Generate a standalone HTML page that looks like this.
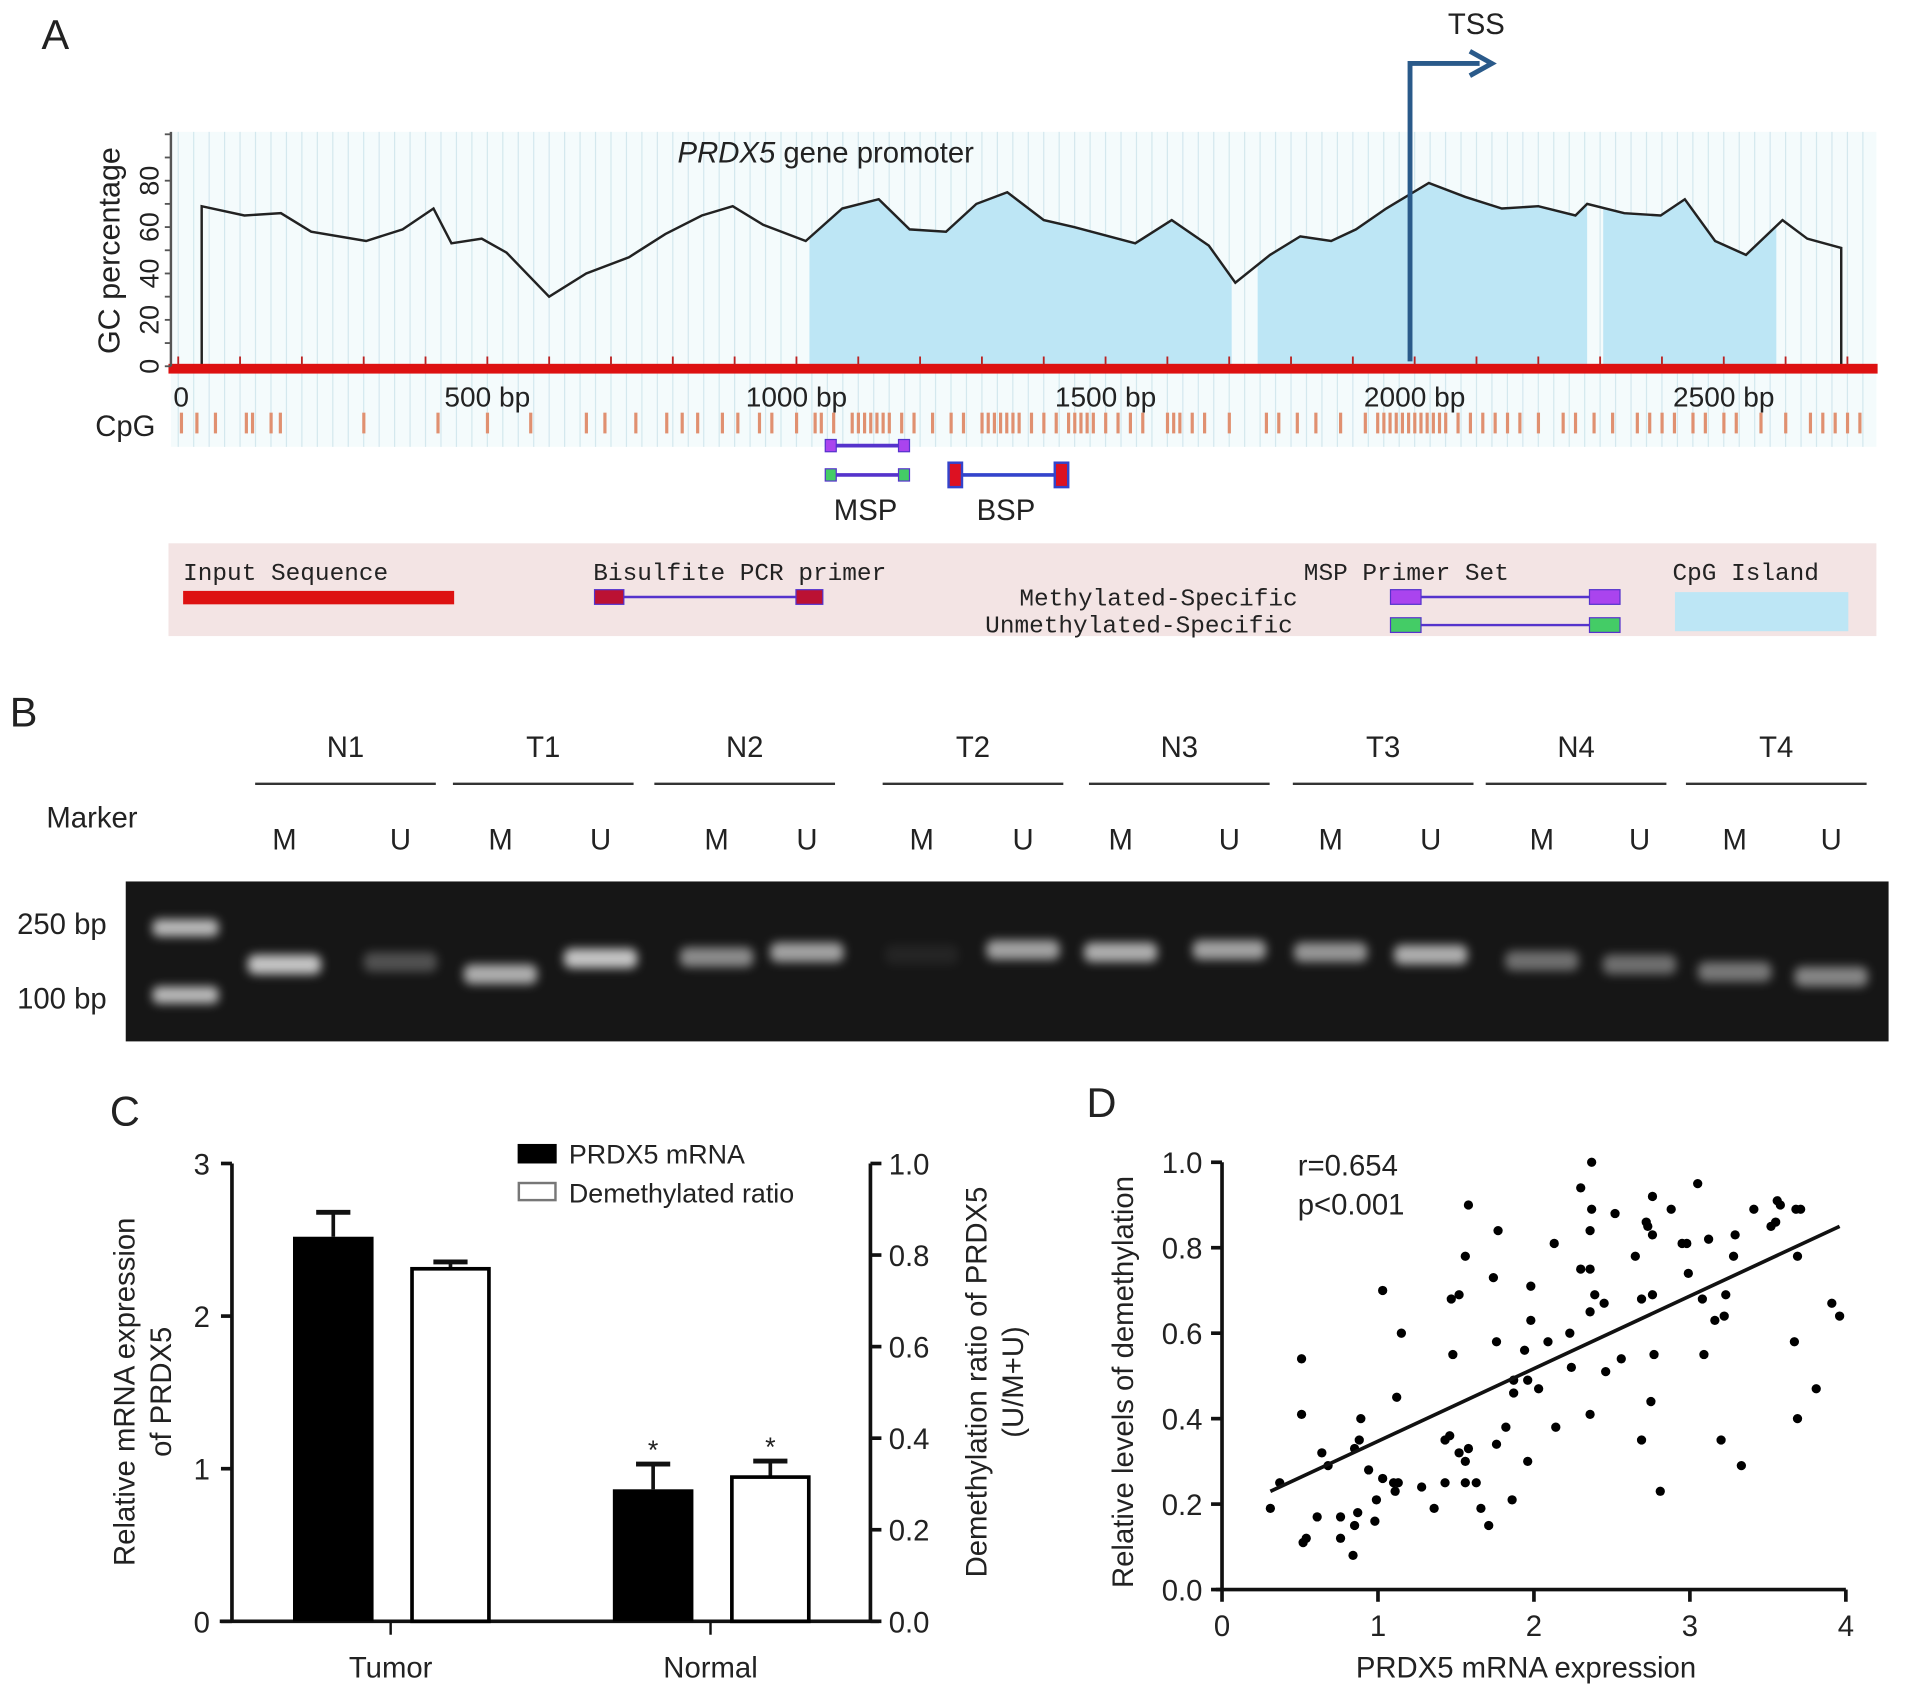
<!DOCTYPE html>
<html><head><meta charset="utf-8">
<style>
html,body{margin:0;padding:0;background:#fff;}
svg{display:block;}
text{font-family:"Liberation Sans",sans-serif;fill:#222;}
.mono{font-family:"Liberation Mono",monospace;}
</style></head>
<body>
<svg id="fig" width="1913" height="1697" viewBox="0 0 1567 1390" preserveAspectRatio="none" xmlns="http://www.w3.org/2000/svg">
<defs>
<filter id="blur" x="-50%" y="-100%" width="200%" height="300%"><feGaussianBlur stdDeviation="4"/></filter>
</defs>
<!-- Panel A -->
<g id="panelA">
<text x="34" y="40" font-size="34">A</text>
<rect x="140" y="108" width="1397" height="258" fill="#f4fbfc"/>
<g id="gridA"></g>
<g id="islands"></g>
<path id="gcLine" d="" fill="none" stroke="#222" stroke-width="2"/>
<rect x="138" y="298" width="1400" height="8" fill="#dd1111"/>
<g id="axisA"></g>
<text x="0" y="0" font-size="25" transform="translate(98,290) rotate(-90)">GC percentage</text>
<text x="555" y="133" font-size="24"><tspan font-style="italic">PRDX5</tspan> gene promoter</text>
<g id="bpTicks"></g>
<text x="78" y="357" font-size="24">CpG</text>
<g id="cpgTicks"></g>
<path d="M1155,296 V52 H1212" fill="none" stroke="#2a5a8a" stroke-width="4"/>
<path d="M1204,42 L1222,52 L1204,62" fill="none" stroke="#2a5a8a" stroke-width="4"/>
<text x="1186" y="28" font-size="24">TSS</text>
<g>
<line x1="680" y1="365" x2="741" y2="365" stroke="#5533cc" stroke-width="3"/>
<rect x="676" y="360" width="9" height="10" fill="#aa44ee" stroke="#5533cc"/><rect x="736" y="360" width="9" height="10" fill="#aa44ee" stroke="#5533cc"/>
<line x1="680" y1="389" x2="741" y2="389" stroke="#5533cc" stroke-width="3"/>
<rect x="676" y="384" width="9" height="10" fill="#44cc66" stroke="#5533cc"/><rect x="736" y="384" width="9" height="10" fill="#44cc66" stroke="#5533cc"/>
<text x="683" y="426" font-size="24">MSP</text>
</g>
<g>
<line x1="782" y1="389" x2="870" y2="389" stroke="#3344cc" stroke-width="3"/>
<rect x="777" y="379" width="11" height="20" fill="#dd1122" stroke="#3344cc" stroke-width="2"/><rect x="864" y="379" width="11" height="20" fill="#dd1122" stroke="#3344cc" stroke-width="2"/>
<text x="800" y="426" font-size="24">BSP</text>
</g>
<g>
<rect x="138" y="445" width="1399" height="76" fill="#f3e4e4"/>
<text x="150" y="475" font-size="20" class="mono" fill="#333">Input Sequence</text>
<rect x="150" y="484" width="222" height="11" fill="#dd1111"/>
<text x="486" y="475" font-size="20" class="mono">Bisulfite PCR primer</text>
<line x1="490" y1="489" x2="672" y2="489" stroke="#5533cc" stroke-width="2"/>
<rect x="487" y="483" width="24" height="12" fill="#bb1133" stroke="#5533cc"/><rect x="652" y="483" width="22" height="12" fill="#bb1133" stroke="#5533cc"/>
<text x="1068" y="475" font-size="20" class="mono">MSP Primer Set</text>
<text x="835" y="496" font-size="20" class="mono">Methylated-Specific</text>
<text x="807" y="518" font-size="20" class="mono">Unmethylated-Specific</text>
<line x1="1142" y1="489" x2="1326" y2="489" stroke="#5533cc" stroke-width="2"/>
<rect x="1139" y="483" width="25" height="12" fill="#aa44ee" stroke="#5533cc"/><rect x="1302" y="483" width="25" height="12" fill="#aa44ee" stroke="#5533cc"/>
<line x1="1142" y1="512" x2="1326" y2="512" stroke="#5533cc" stroke-width="2"/>
<rect x="1139" y="506" width="25" height="12" fill="#44cc66" stroke="#5533cc"/><rect x="1302" y="506" width="25" height="12" fill="#44cc66" stroke="#5533cc"/>
<text x="1370" y="475" font-size="20" class="mono">CpG Island</text>
<rect x="1372" y="485" width="142" height="32" fill="#bde6f5"/>
</g>
</g>

<!-- Panel B -->
<g id="panelB">
<text x="8" y="595" font-size="34">B</text>
<text x="38" y="678" font-size="24">Marker</text>
<g id="laneHeaders"></g>
<rect x="103" y="722" width="1444" height="131" fill="#161616"/>
<g id="bands"></g>
<text x="14" y="765" font-size="24">250 bp</text>
<text x="14" y="826" font-size="24">100 bp</text>
</g>

<!-- Panel C -->
<g id="panelC">
<text x="90" y="922" font-size="34">C</text>
<g id="barC"></g>
</g>

<!-- Panel D -->
<g id="panelD">
<text x="890" y="915" font-size="34">D</text>
<g id="scatD"></g>
</g>
</svg>

<script>
// ---------- Panel A data ----------
const gcPos = [38,107,166,215,304,363,413,442,491,531,600,660,729,788,847,897,946,1015,1074,1133,1183,1242,1291,1341,1400,1449,1548,1607,1667,1710,1766,1815,1865,1905,1954,2023,2082,2141,2200,2260,2279,2339,2398,2437,2486,2536,2595,2635,2690];
const gcVal = [69,65,66,58,54,59,68,53,55,49,30,40,47,57,65,69,61,54,68,72,59,58,70,75,63,60,53,63,52,36,48,56,54,59,68,79,73,68,69,65,70,66,65,72,54,48,63,55,51];
const islandStart = [1021,1746,2305];
const islandEnd = [1704,2279,2585];
const gcTicks = [0,20,40,60,80];
const bpTicks = [0,500,1000,1500,2000,2500];
const bpLabels = ["0","500 bp","1000 bp","1500 bp","2000 bp","2500 bp"];
const cpgSites = [5,30,60,110,120,150,165,300,420,500,570,660,690,740,790,815,840,880,905,940,960,1000,1030,1040,1060,1090,1100,1110,1120,1130,1140,1150,1170,1190,1220,1250,1270,1300,1310,1320,1330,1340,1350,1360,1380,1400,1420,1440,1450,1460,1470,1480,1500,1520,1540,1560,1600,1610,1620,1640,1660,1700,1760,1780,1810,1840,1880,1920,1940,1950,1960,1970,1980,1990,2000,2010,2020,2030,2040,2050,2070,2090,2110,2130,2150,2170,2200,2240,2260,2290,2320,2360,2380,2400,2420,2450,2470,2500,2520,2560,2600,2640,2660,2680,2700,2720];

const SVGNS="http://www.w3.org/2000/svg";
function mk(tag, attrs, parent){const e=document.createElementNS(SVGNS,tag);for(const k in attrs)e.setAttribute(k,attrs[k]);parent.appendChild(e);return e;}
const bpX = bp => 146 + bp*0.5064;
const gcY = v => 300 - v*1.9;

(function(){
 const grid=document.getElementById('gridA');
 for(let x=146;x<1537;x+=12.66){ mk('line',{x1:x,y1:108,x2:x,y2:366,stroke:'#d4e8ee','stroke-width':1},grid); }
 const pts=gcPos.map((p,i)=>[bpX(p),gcY(gcVal[i])]);
 let d='M'+bpX(gcPos[0])+','+gcY(0);
 pts.forEach(p=>d+=' L'+p[0].toFixed(1)+','+p[1].toFixed(1));
 d+=' L'+bpX(gcPos[gcPos.length-1])+','+gcY(0);
 document.getElementById('gcLine').setAttribute('d',d);
 const isl=document.getElementById('islands');
 const defs=mk('defs',{},isl);
 const cp=mk('clipPath',{id:'gcClip'},defs);
 mk('path',{d:d+' Z'},cp);
 islandStart.forEach((s,i)=>{
  const r=mk('rect',{x:bpX(s),y:100,width:bpX(islandEnd[i])-bpX(s),height:200,fill:'#bde6f5','clip-path':'url(#gcClip)'},isl);
  
  
 });
 const ax=document.getElementById('axisA');
 mk('line',{x1:140,y1:108,x2:140,y2:300,stroke:'#555','stroke-width':2},ax);
 for(let v=0;v<=100;v+=10){ mk('line',{x1:135,y1:gcY(v),x2:140,y2:gcY(v),stroke:'#555','stroke-width':1.5},ax); }
 gcTicks.forEach(v=>{
  const t=mk('text',{x:0,y:0,'font-size':22,'text-anchor':'middle',transform:`translate(130,${gcY(v)}) rotate(-90)`},ax);
  t.textContent=v;
  
  
 });
 const bt=document.getElementById('bpTicks');
 for(let b=0;b<=2700;b+=100){ mk('line',{x1:bpX(b),y1:292,x2:bpX(b),y2:299,stroke:'#b22',  'stroke-width':1.5},bt); }
 bpTicks.forEach((b,i)=>{
  const t=mk('text',{x:bpX(b)-(i==0?4:0),y:333,'font-size':23,'text-anchor':i==0?'start':'middle'},bt);
  t.textContent=bpLabels[i];
  
  
 });
 const cg=document.getElementById('cpgTicks');
 cpgSites.forEach(s=>{
  const r=mk('rect',{x:bpX(s)-1.2,y:338,width:2.6,height:17,fill:'#e09070'},cg);
  
  
 });
})();

// ---------- Panel B data ----------
const groups = ["N1","T1","N2","T2","N3","T3","N4","T4"];
const groupCenters = [283,445,610,797,966,1133,1291,1455];
const laneX = [233,328,410,492,587,661,755,838,918,1007,1090,1172,1263,1343,1421,1500];
const bandY = [790,788,798,785,784,780,782,778,780,778,780,782,787,790,796,800];
const bandIntensity = [0.75,0.25,0.65,0.75,0.5,0.6,0.06,0.6,0.65,0.6,0.55,0.65,0.38,0.38,0.42,0.48];
(function(){
 const lh=document.getElementById('laneHeaders');
 groups.forEach((g,i)=>{
  const t=mk('text',{x:groupCenters[i],y:620,'font-size':24,'text-anchor':'middle'},lh);
  t.textContent=g;
  
  
  mk('line',{x1:groupCenters[i]-74,y1:642,x2:groupCenters[i]+74,y2:642,stroke:'#333','stroke-width':2},lh);
 });
 laneX.forEach((x,i)=>{
  const t=mk('text',{x:x,y:696,'font-size':24,'text-anchor':'middle'},lh);
  t.textContent= i%2==0?'M':'U';
  
  
 });
 const bd=document.getElementById('bands');
 laneX.forEach((x,i)=>{
  const r=mk('rect',{x:x-30,y:bandY[i]-8,width:60,height:16,rx:6,fill:'#fff',opacity:bandIntensity[i],filter:'url(#blur)'},bd);
  
  
 });
 [[152,760],[152,815]].forEach(p=>{
  const r=mk('rect',{x:p[0]-27,y:p[1]-7,width:54,height:14,rx:5,fill:'#fff',opacity:0.7,filter:'url(#blur)'},bd);
  
  
 });
})();

// ---------- Panel C data ----------
const barCats = ["Tumor","Normal"];
const mrnaVals = [2.52,0.865];
const mrnaErr = [0.16,0.165];
const demethVals = [0.77,0.315];
const demethErr = [0.015,0.035];
const leftTicks = [0,1,2,3];
const rightTicks = ["0.0","0.2","0.4","0.6","0.8","1.0"];
(function(){
 const g=document.getElementById('barC');
 const yL=v=>1328-v*125, yR=v=>1328-v*375;
 const catX=[320,582];
 mk('line',{x1:190,y1:953,x2:190,y2:1328,stroke:'#111','stroke-width':3},g);
 mk('line',{x1:713,y1:953,x2:713,y2:1328,stroke:'#111','stroke-width':3},g);
 mk('line',{x1:180,y1:1328,x2:720,y2:1328,stroke:'#111','stroke-width':3},g);
 leftTicks.forEach(v=>{
  mk('line',{x1:181,y1:yL(v),x2:190,y2:yL(v),stroke:'#111','stroke-width':3},g);
  const t=mk('text',{x:172,y:yL(v)+9,'font-size':24,'text-anchor':'end'},g);t.textContent=v;
  
  
 });
 rightTicks.forEach(s=>{
  const v=parseFloat(s);
  mk('line',{x1:713,y1:yR(v),x2:722,y2:yR(v),stroke:'#111','stroke-width':3},g);
  const t=mk('text',{x:728,y:yR(v)+9,'font-size':24},g);t.textContent=s;
  
  
 });
 barCats.forEach((c,i)=>{
  const cx=catX[i];
  mk('line',{x1:cx,y1:1328,x2:cx,y2:1339,stroke:'#111','stroke-width':2},g);
  const t=mk('text',{x:cx,y:1374,'font-size':24,'text-anchor':'middle'},g);t.textContent=c;
  
  
  const x1=cx-80, x2=cx+16;
  const top1=yL(mrnaVals[i]), e1=yL(mrnaVals[i]+mrnaErr[i]);
  mk('line',{x1:x1+33,y1:top1,x2:x1+33,y2:e1,stroke:'#111','stroke-width':3},g);
  mk('line',{x1:x1+19,y1:e1,x2:x1+47,y2:e1,stroke:'#111','stroke-width':4},g);
  const b1=mk('rect',{x:x1,y:top1,width:66,height:1328-top1,fill:'#000'},g);
  
  
  const top2=yR(demethVals[i]), e2=yR(demethVals[i]+demethErr[i]);
  mk('line',{x1:x2+33,y1:top2,x2:x2+33,y2:e2,stroke:'#111','stroke-width':3},g);
  mk('line',{x1:x2+19,y1:e2,x2:x2+47,y2:e2,stroke:'#111','stroke-width':4},g);
  const b2=mk('rect',{x:x2+1.5,y:top2,width:63,height:1328-top2,fill:'#fff',stroke:'#000','stroke-width':3},g);
  
  
  if(i==1){
   const a1=mk('text',{x:x1+33,y:e1-4,'font-size':22,'text-anchor':'middle'},g);a1.textContent='*';
   
   
   const a2=mk('text',{x:x2+33,y:e2-4,'font-size':22,'text-anchor':'middle'},g);a2.textContent='*';
   
   
  }
 });
 const l1=mk('rect',{x:424,y:937,width:32,height:16,fill:'#000'},g);
 
 const lt1=mk('text',{x:466,y:953,'font-size':22},g);lt1.textContent='PRDX5 mRNA';
 
 const l2=mk('rect',{x:425,y:969,width:30,height:14,fill:'#fff',stroke:'#777','stroke-width':2},g);
 
 const lt2=mk('text',{x:466,y:985,'font-size':22},g);lt2.textContent='Demethylated ratio';
 
 const yt=mk('text',{x:0,y:0,'font-size':24,'text-anchor':'middle',transform:'translate(110,1140) rotate(-90)'},g);
 yt.innerHTML='<tspan x="0" dy="0">Relative mRNA expression</tspan><tspan x="0" dy="30">of PRDX5</tspan>';
 
 const yt2=mk('text',{x:0,y:0,'font-size':24,'text-anchor':'middle',transform:'translate(808,1132) rotate(-90)'},g);
 yt2.innerHTML='<tspan x="0" dy="0">Demethylation ratio of PRDX5</tspan><tspan x="0" dy="30">(U/M+U)</tspan>';
 
})();

// ---------- Panel D data ----------
const mrnaExpr = [0.31,0.37,0.51,0.51,0.52,0.54,0.61,0.64,0.68,0.76,0.76,0.84,0.85,0.87,0.85,0.88,0.89,0.94,0.98,0.99,1.03,1.03,1.10,1.11,1.13,1.12,1.15,1.28,1.36,1.43,1.43,1.46,1.47,1.48,1.52,1.52,1.56,1.56,1.58,1.56,1.58,1.63,1.66,1.71,1.74,1.76,1.77,1.76,1.82,1.86,1.87,1.87,1.94,1.96,1.96,1.98,1.98,2.03,2.09,2.13,2.14,2.23,2.24,2.30,2.30,2.36,2.36,2.36,2.37,2.37,2.36,2.39,2.45,2.46,2.52,2.56,2.65,2.69,2.69,2.72,2.73,2.76,2.76,2.76,2.77,2.75,2.81,2.88,2.95,2.98,2.99,3.05,3.08,3.09,3.12,3.16,3.20,3.22,3.23,3.28,3.29,3.33,3.41,3.52,3.55,3.56,3.58,3.68,3.71,3.69,3.67,3.69,3.81,3.91,3.96];
const demethLevel = [0.19,0.25,0.54,0.41,0.11,0.12,0.17,0.32,0.29,0.17,0.12,0.08,0.15,0.18,0.33,0.35,0.40,0.28,0.16,0.21,0.70,0.26,0.25,0.23,0.25,0.45,0.60,0.24,0.19,0.25,0.35,0.36,0.68,0.55,0.69,0.32,0.30,0.25,0.33,0.78,0.90,0.25,0.19,0.15,0.73,0.58,0.84,0.34,0.38,0.21,0.49,0.46,0.56,0.49,0.30,0.71,0.63,0.47,0.58,0.81,0.38,0.60,0.52,0.94,0.75,0.75,0.65,0.84,0.89,1.00,0.41,0.69,0.67,0.51,0.88,0.54,0.78,0.68,0.35,0.86,0.85,0.92,0.83,0.69,0.55,0.44,0.23,0.89,0.81,0.81,0.74,0.95,0.68,0.55,0.82,0.63,0.35,0.64,0.69,0.78,0.83,0.29,0.89,0.85,0.86,0.91,0.90,0.89,0.89,0.78,0.58,0.40,0.47,0.67,0.64];
const fitX = [0.31,3.96];
const fitY = [0.23,0.85];
const xTicksD = [0,1,2,3,4];
const yTicksD = ["0.0","0.2","0.4","0.6","0.8","1.0"];
(function(){
 const g=document.getElementById('scatD');
 const X=v=>1001+v*127.75, Y=v=>1302-v*350;
 mk('line',{x1:1001,y1:952,x2:1001,y2:1302,stroke:'#111','stroke-width':3},g);
 mk('line',{x1:996,y1:1302,x2:1512,y2:1302,stroke:'#111','stroke-width':3},g);
 yTicksD.forEach(s=>{
  const v=parseFloat(s);
  mk('line',{x1:992,y1:Y(v),x2:1001,y2:Y(v),stroke:'#111','stroke-width':3},g);
  const t=mk('text',{x:985,y:Y(v)+9,'font-size':24,'text-anchor':'end'},g);t.textContent=s;
  
 });
 xTicksD.forEach(v=>{
  mk('line',{x1:X(v),y1:1302,x2:X(v),y2:1312,stroke:'#111','stroke-width':3},g);
  const t=mk('text',{x:X(v),y:1340,'font-size':24,'text-anchor':'middle'},g);t.textContent=v;
  
 });
 mrnaExpr.forEach((x,i)=>{
  const c=mk('circle',{cx:X(x),cy:Y(demethLevel[i]),r:3.8,fill:'#000'},g);
  
  
 });
 const ln=mk('line',{x1:X(fitX[0]),y1:Y(fitY[0]),x2:X(fitX[1]),y2:Y(fitY[1]),stroke:'#111','stroke-width':3},g);
 
 const r=mk('text',{x:1063,y:963,'font-size':24},g);r.textContent='r=0.654';
 
 const p=mk('text',{x:1063,y:995,'font-size':24},g);p.textContent='p<0.001';
 
 const xt=mk('text',{x:1250,y:1374,'font-size':24,'text-anchor':'middle'},g);xt.textContent='PRDX5 mRNA expression';
 
 const yt=mk('text',{x:0,y:0,'font-size':24,'text-anchor':'middle',transform:'translate(928,1132) rotate(-90)'},g);yt.textContent='Relative levels of demethylation';
 
})();
</script>
</body></html>
